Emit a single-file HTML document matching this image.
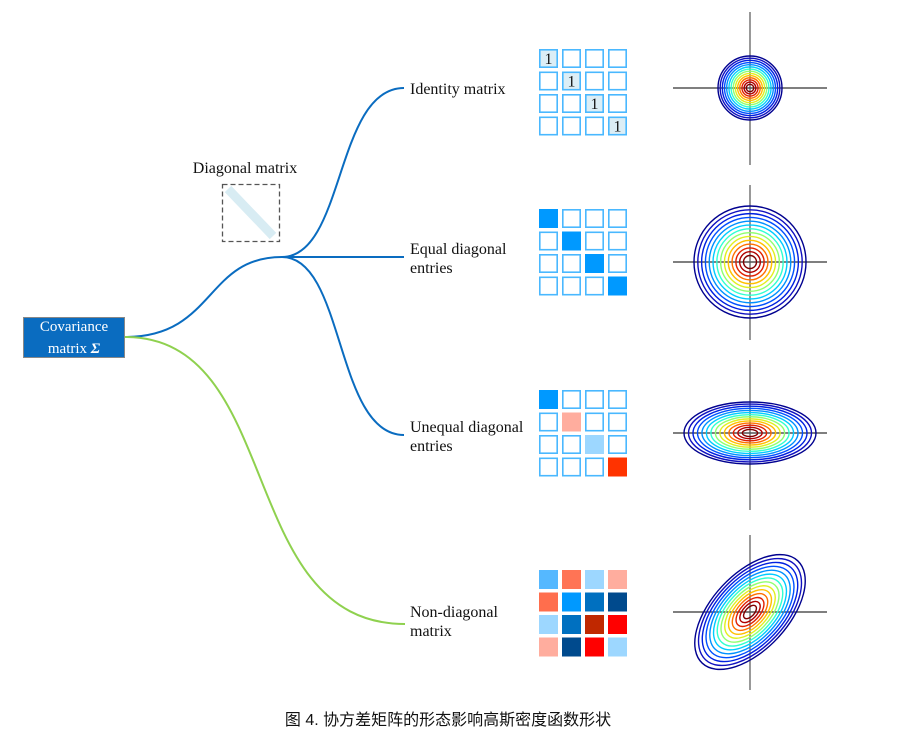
<!DOCTYPE html>
<html><head><meta charset="utf-8"><style>
html,body{margin:0;padding:0;background:#fff}
svg{display:block}
text{font-family:"Liberation Serif",serif;font-size:16px;fill:#111}
</style></head><body>
<svg id="s" width="911" height="738" viewBox="0 0 911 738" xmlns="http://www.w3.org/2000/svg">
<path d="M125,337 C215,337 205,257 282,257" fill="none" stroke="#0a6cc0" stroke-width="2"/>
<path d="M282,257 C345,257 335,88 404,88" fill="none" stroke="#0a6cc0" stroke-width="2"/>
<path d="M282,257 L404,257" fill="none" stroke="#0a6cc0" stroke-width="2"/>
<path d="M282,257 C345,257 335,435 404,435" fill="none" stroke="#0a6cc0" stroke-width="2"/>
<path d="M125,337 C285,337 235,624 405,624" fill="none" stroke="#8fd14f" stroke-width="2"/>
<rect x="23.5" y="317.5" width="101" height="40" fill="#0a6cc0" stroke="#888" stroke-width="1"/>
<text x="74" y="331" text-anchor="middle" style="fill:#fff;font-size:15px">Covariance</text>
<text x="74" y="353" text-anchor="middle" style="fill:#fff;font-size:15px">matrix <tspan font-weight="bold" font-style="italic">Σ</tspan></text>
<text x="245" y="173" text-anchor="middle">Diagonal matrix</text>
<line x1="228" y1="189" x2="273" y2="236" stroke="#d8ecf3" stroke-width="9"/>
<rect x="222.5" y="184.5" width="57" height="57" fill="none" stroke="#555" stroke-width="1.3" stroke-dasharray="5,3"/>
<text x="410" y="94">Identity matrix</text>
<text x="410" y="254">Equal diagonal</text>
<text x="410" y="273">entries</text>
<text x="410" y="432">Unequal diagonal</text>
<text x="410" y="451">entries</text>
<text x="410" y="617">Non-diagonal</text>
<text x="410" y="636">matrix</text>
<text x="448" y="725" text-anchor="middle" style="font-family:'Liberation Sans','Noto Sans CJK SC',sans-serif;font-size:16px">图 4. 协方差矩阵的形态影响高斯密度函数形状</text>
<g id="g"></g>
</svg>
<script>
var NS="http://www.w3.org/2000/svg",g=document.getElementById("g");
function el(t,a){var e=document.createElementNS(NS,t);for(var k in a)e.setAttribute(k,a[k]);g.appendChild(e);return e;}
var xs=[539,562,585,608];
function grid(y0,fills,ones){
  var ys=[y0,y0+22.5,y0+45,y0+67.5];
  for(var r=0;r<4;r++)for(var c=0;c<4;c++){
    var f=fills[r*4+c];
    if(f){el("rect",{x:xs[c],y:ys[r],width:19,height:19,fill:f});}
    else el("rect",{x:xs[c]+0.8,y:ys[r]+0.8,width:17.4,height:17.4,fill:"#fff",stroke:"#4ab8ff","stroke-width":1.6});
    if(ones&&r==c){el("rect",{x:xs[c]+0.8,y:ys[r]+0.8,width:17.4,height:17.4,fill:"#dceef6",stroke:"#4ab8ff","stroke-width":1.6});
      var tx=el("text",{x:xs[c]+9.5,y:ys[r]+15,"text-anchor":"middle"});tx.textContent="1";}
  }
}
var N=null;
grid(49,[N,N,N,N,N,N,N,N,N,N,N,N,N,N,N,N],true);
grid(209,["#0099ff",N,N,N,N,"#0099ff",N,N,N,N,"#0099ff",N,N,N,N,"#0099ff"]);
grid(390,["#0099ff",N,N,N,N,"#ffad9e",N,N,N,N,"#9dd7ff",N,N,N,N,"#ff3300"]);
grid(570,["#55b8ff","#ff7455","#9dd7ff","#ffad9e","#ff6e4d","#0099ff","#0070c0","#004a8d","#9dd7ff","#0070c0","#c02800","#ff0000","#ffad9e","#004a8d","#ff0000","#9dd7ff"]);
var cols=["#00008f","#1010c0","#0020e0","#0050ff","#0090ff","#00ccff","#30ffd0","#90ff70","#e0f020","#ffc000","#ff7000","#e02000","#b00000","#800000"];
var fr=[];for(var i=0;i<14;i++)fr.push(1-i*0.068);
function axes(cx,cy,x1,x2,y1,y2){
  el("line",{x1:x1,y1:cy,x2:x2,y2:cy,stroke:"#333","stroke-width":1.2});
  el("line",{x1:cx,y1:y1,x2:cx,y2:y2,stroke:"#555","stroke-width":1.2});
}
function cont(cx,cy,rx,ry,rot){
  for(var i=0;i<cols.length;i++)
    el("ellipse",{cx:cx,cy:cy,rx:rx*fr[i],ry:ry*fr[i],fill:"none",stroke:cols[i],"stroke-width":1.4,transform:"rotate("+rot+" "+cx+" "+cy+")"});
}
axes(750,88,673,827,12,165); cont(750,88,32,32,0);
axes(750,262,673,827,185,340); cont(750,262,56,56,0);
axes(750,433,673,827,360,510); cont(750,433,66,31,0);
axes(750,612,673,827,535,690); cont(750,612,70,38,-47);
</script>
</body></html>
